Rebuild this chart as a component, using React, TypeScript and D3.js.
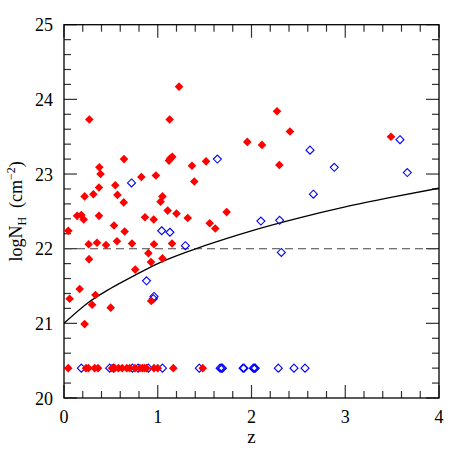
import * as d3 from 'd3';
import React, { useEffect, useRef } from 'react';

// filled red diamonds: [z, logNH]
const redZ = [1.227, 0.27, 1.127, 0.64, 1.12, 1.134, 1.155, 0.377, 0.39, 1.365, 0.825, 0.98, 1.39, 0.547, 0.373,
  0.22, 0.313, 0.57, 0.637, 1.05, 1.03, 1.106, 1.2, 1.32, 0.14, 0.185, 0.21, 0.373, 0.864, 0.957,
  0.046, 0.533, 0.647, 0.263, 0.352, 0.448, 0.565, 0.725, 0.96, 1.152, 0.9, 0.267, 0.928, 1.05, 0.76,
  0.167, 0.06, 0.335, 0.3, 0.498, 0.93, 0.22, 2.272, 2.41, 1.955, 2.112, 1.515, 2.297, 1.735, 1.554, 1.614, 3.488];
const redN = [24.17, 23.73, 23.73, 23.2, 23.18, 23.21, 23.23, 23.09, 23.0, 23.11, 22.96, 22.98, 22.9, 22.85, 22.82,
  22.7, 22.73, 22.72, 22.62, 22.7, 22.63, 22.51, 22.47, 22.41, 22.44, 22.45, 22.39, 22.44, 22.42, 22.39,
  22.24, 22.31, 22.23, 22.06, 22.08, 22.05, 22.1, 22.07, 22.06, 22.07, 21.94, 21.86, 21.82, 21.87, 21.72,
  21.46, 21.33, 21.38, 21.25, 21.21, 21.3, 20.99, 23.84, 23.57, 23.43, 23.39, 23.17, 23.12, 22.49, 22.34, 22.27, 23.5];

// open blue diamonds
const blueZ = [0.72, 1.042, 1.13, 1.294, 0.88, 0.96, 0.953, 2.624, 1.636, 2.66, 2.1, 2.3, 2.318, 3.584, 2.883, 3.662];
const blueN = [22.88, 22.24, 22.22, 22.04, 21.57, 21.36, 21.33, 23.32, 23.2, 22.73, 22.37, 22.38, 21.95, 23.46, 23.09, 23.02];

// upper limits row at logNH = 20.4
const rowN = 20.4;
const redRowZ = [0.045, 0.235, 0.26, 0.327, 0.363, 0.512, 0.54, 0.58, 0.62, 0.67, 0.7, 0.757, 0.81, 0.835, 0.857,
  0.88, 0.96, 1.0, 1.166, 1.48];
const blueRowZ = [0.185, 0.487, 0.53, 0.73, 0.79, 0.9, 1.05, 1.443, 1.665, 1.68, 1.69, 1.91, 1.92, 2.02, 2.03,
  2.04, 2.286, 2.453, 2.571];

// solid model curve
const curveZ = [0, 0.25, 0.5, 0.75, 1, 1.5, 2, 2.5, 3, 3.5, 4];
const curveN = [21.0, 21.27, 21.47, 21.64, 21.8, 22.04, 22.24, 22.41, 22.56, 22.69, 22.81];

const dashedN = 22;

const App = () => {
  const ref = useRef(null);

  useEffect(() => {
    document.body.style.margin = '0';
    const svg = d3.select(ref.current);
    svg.selectAll('*').remove();

    const left = 64, right = 439, top = 24.7, bottom = 398;
    const x = d3.scaleLinear().domain([0, 4]).range([left, right]);
    const y = d3.scaleLinear().domain([20, 25]).range([bottom, top]);
    const font = '"Liberation Serif", "DejaVu Serif", serif';

    const g = svg.append('g');

    // ticks, inward on all four sides
    const xMinor = d3.range(0, 4.001, 0.2);
    const yMinor = d3.range(20, 25.001, 0.2);
    const isMajor = v => Math.abs(v - Math.round(v)) < 1e-6;
    xMinor.forEach(v => {
      const len = isMajor(v) ? 13 : 7;
      g.append('line').attr('x1', x(v)).attr('x2', x(v)).attr('y1', bottom).attr('y2', bottom - len)
        .attr('stroke', '#333').attr('stroke-width', 1.2);
      g.append('line').attr('x1', x(v)).attr('x2', x(v)).attr('y1', top).attr('y2', top + len)
        .attr('stroke', '#333').attr('stroke-width', 1.2);
    });
    yMinor.forEach(v => {
      const len = isMajor(v) ? 13 : 7;
      g.append('line').attr('y1', y(v)).attr('y2', y(v)).attr('x1', left).attr('x2', left + len)
        .attr('stroke', '#333').attr('stroke-width', 1.2);
      g.append('line').attr('y1', y(v)).attr('y2', y(v)).attr('x1', right).attr('x2', right - len)
        .attr('stroke', '#333').attr('stroke-width', 1.2);
    });

    g.append('rect').attr('x', left).attr('y', top).attr('width', right - left).attr('height', bottom - top)
      .attr('fill', 'none').attr('stroke', '#000').attr('stroke-width', 1.3);

    // tick labels
    [0, 1, 2, 3, 4].forEach(v => {
      g.append('text').attr('x', x(v)).attr('y', 423).attr('text-anchor', 'middle')
        .style('font-family', font).style('font-size', '18px').text(v);
    });
    [20, 21, 22, 23, 24, 25].forEach(v => {
      g.append('text').attr('x', 53).attr('y', y(v) + 6.5).attr('text-anchor', 'end')
        .style('font-family', font).style('font-size', '18px').text(v);
    });

    // axis titles
    g.append('text').attr('x', x(2)).attr('y', 443).attr('text-anchor', 'middle')
      .style('font-family', font).style('font-size', '19px').text('z');
    const yt = g.append('text').attr('transform', `translate(22, ${y(22.5)}) rotate(-90)`)
      .attr('text-anchor', 'middle').style('font-family', font).style('font-size', '18px');
    yt.append('tspan').text('logN');
    yt.append('tspan').attr('dy', 4).style('font-size', '12px').text('H');
    yt.append('tspan').attr('dy', -4).text('\u00a0\u00a0(cm');
    yt.append('tspan').attr('dy', -7).style('font-size', '12px').text('\u22122');
    yt.append('tspan').attr('dy', 7).text(')');

    // reference lines
    g.append('line').attr('x1', x(0)).attr('x2', x(4)).attr('y1', y(dashedN)).attr('y2', y(dashedN))
      .attr('stroke', '#444').attr('stroke-width', 1.1).attr('stroke-dasharray', '8,5');
    const line = d3.line().x(d => x(d[0])).y(d => y(d[1])).curve(d3.curveMonotoneX);
    g.append('path').datum(curveZ.map((z, i) => [z, curveN[i]])).attr('d', line)
      .attr('fill', 'none').attr('stroke', '#000').attr('stroke-width', 1.3);

    const diamond = (cx, cy, r) => `M${cx},${cy - r}L${cx + r},${cy}L${cx},${cy + r}L${cx - r},${cy}Z`;

    const blue = blueZ.map((z, i) => [z, blueN[i]]).concat(blueRowZ.map(z => [z, rowN]));
    g.selectAll('path.blue').data(blue).enter().append('path').attr('class', 'blue')
      .attr('d', d => diamond(x(d[0]), y(d[1]), 4))
      .attr('fill', 'none').attr('stroke', '#0000ff').attr('stroke-width', 1.1);

    const red = redZ.map((z, i) => [z, redN[i]]).concat(redRowZ.map(z => [z, rowN]));
    g.selectAll('path.red').data(red).enter().append('path').attr('class', 'red')
      .attr('d', d => diamond(x(d[0]), y(d[1]), 4.3))
      .attr('fill', '#ff0000').attr('stroke', 'none');
  }, []);

  return <svg ref={ref} width={463} height={463} style={{ display: 'block', background: '#fff' }} />;
};

export default App;
